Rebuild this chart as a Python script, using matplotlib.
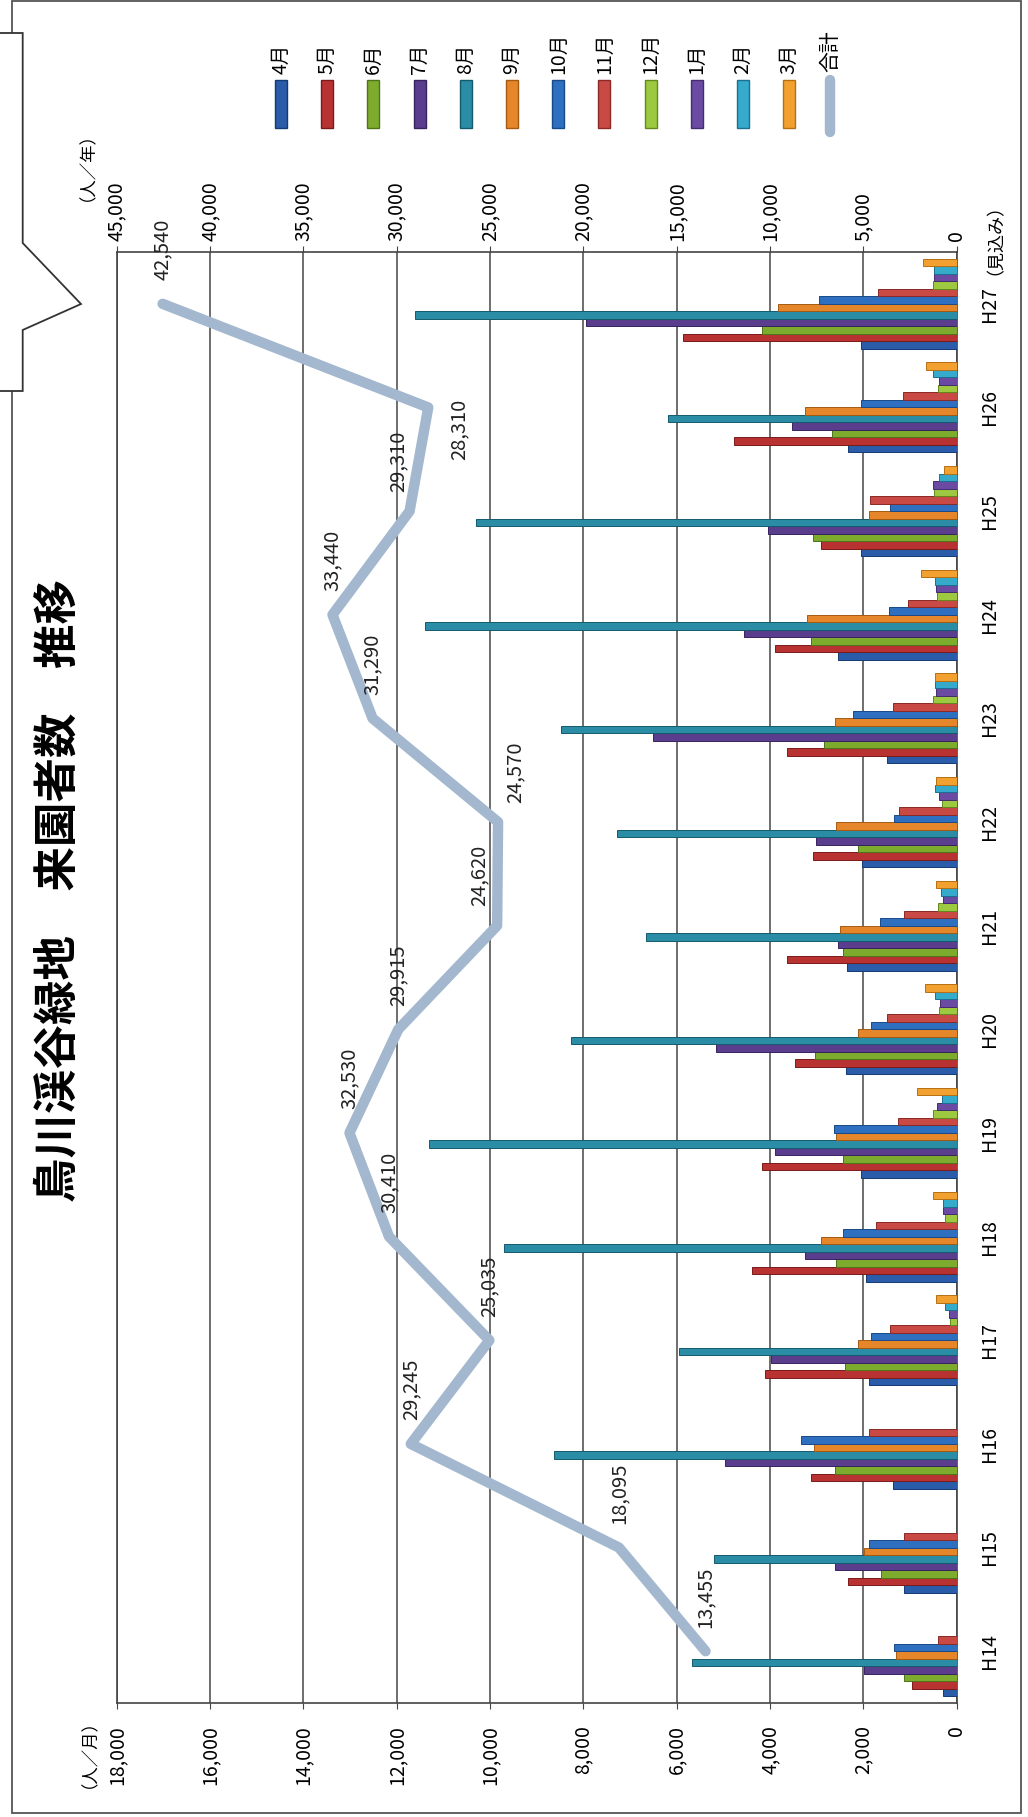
import numpy as np
import matplotlib.pyplot as plt
from matplotlib.patches import Rectangle, Polygon
from matplotlib.lines import Line2D
from matplotlib.ticker import FuncFormatter

plt.rcParams['font.family'] = ['Noto Sans CJK JP', 'DejaVu Sans']

# data (people per month, per year)
years = ['H14', 'H15', 'H16', 'H17', 'H18', 'H19', 'H20',
         'H21', 'H22', 'H23', 'H24', 'H25', 'H26', 'H27']
months = ['4月', '5月', '6月', '7月', '8月', '9月',
          '10月', '11月', '12月', '1月', '2月', '3月']

apr = [290, 1130, 1370, 1870, 1940, 2060, 2370, 2360, 2040, 1500, 2540, 2060, 2320, 2060]
may = [960, 2340, 3130, 4110, 4390, 4180, 3460, 3640, 3090, 3630, 3890, 2910, 4770, 5870]
jun = [1140, 1630, 2610, 2390, 2590, 2430, 3040, 2430, 2110, 2840, 3130, 3070, 2680, 4180]
jul = [1990, 2610, 4960, 3990, 3250, 3890, 5160, 2540, 3010, 6500, 4560, 4040, 3540, 7940]
aug = [5680, 5200, 8630, 5960, 9700, 11300, 8260, 6660, 7270, 8490, 11400, 10300, 6180, 11600]
sep = [1300, 1990, 3060, 2110, 2910, 2590, 2110, 2500, 2590, 2610, 3210, 1890, 3250, 3820]
octo = [1340, 1890, 3340, 1840, 2440, 2630, 1840, 1640, 1340, 2230, 1460, 1440, 2060, 2960]
nov = [410, 1140, 1890, 1440, 1730, 1250, 1490, 1130, 1230, 1370, 1040, 1860, 1160, 1680]
dec = [0, 0, 0, 140, 250, 500, 390, 410, 320, 510, 430, 490, 410, 500]
jan = [0, 0, 0, 160, 290, 430, 360, 290, 370, 440, 440, 500, 390, 490]
feb = [0, 0, 0, 250, 300, 320, 460, 340, 460, 460, 460, 390, 510, 490]
mar = [0, 0, 0, 440, 510, 860, 680, 440, 440, 460, 770, 270, 660, 730]

totals = [13455, 18095, 29245, 25035, 30410, 32530, 29915,
          24620, 24570, 31290, 33440, 29310, 28310, 42540]

series = [apr, may, jun, jul, aug, sep, octo, nov, dec, jan, feb, mar]
colors = ['#2a5caa', '#b83232', '#7cab2e', '#5a3d8c', '#2a8ca5', '#e5862a',
          '#2e6fc0', '#c94a45', '#9cc93f', '#6b4aa3', '#36aacb', '#f2a131']
edges = ['#123a75', '#7a1a1a', '#4d7418', '#37235e', '#155a6c', '#a45a12',
         '#194a88', '#8a2926', '#62881e', '#442c70', '#1b7090', '#b57012']
line_color = '#a3b7cf'

W, H = 1028, 1817
fig = plt.figure(figsize=(W / 100, H / 100), dpi=100)

def fx(px):
    return px / W

def fy(py):
    return 1 - py / H

# the whole chart is turned 90 degrees: value axis runs right-to-left
ax = fig.add_axes([fx(116.7), fy(1703), fx(956.7) - fx(116.7), fy(252) - fy(1703)])
ypos = np.arange(len(years))
h = 0.0724
for i, vals in enumerate(series):
    ax.barh(ypos + (i - 5.5) * h, vals, height=h, color=colors[i],
            edgecolor=edges[i], linewidth=0.7, zorder=3)

ax.set_xlim(18000, 0)
ax.set_ylim(-0.5, len(years) - 0.5)
ax.set_xticks(np.arange(0, 18001, 2000))
ax.xaxis.set_major_formatter(FuncFormatter(lambda v, p: f'{int(v):,}'))
ax.tick_params(axis='x', rotation=90, labelsize=14, length=4, pad=12,
               color='#444444')
ax.grid(axis='x', color='#555555', linewidth=1.2, zorder=0)
ax.set_axisbelow(True)

ax.yaxis.tick_right()
ax.set_yticks(ypos)
ax.set_yticklabels(years, rotation=90, va='center', fontsize=14)
ax.tick_params(axis='y', length=0, pad=16)
for s in ax.spines.values():
    s.set_color('#444444')
    s.set_linewidth(1.2)

ax2 = ax.twiny()
ax2.set_xlim(45000, 0)
ax2.set_xticks(np.arange(0, 45001, 5000))
ax2.xaxis.set_major_formatter(FuncFormatter(lambda v, p: f'{int(v):,}'))
ax2.tick_params(axis='x', rotation=90, labelsize=14, length=4, pad=4,
                color='#444444')
for s in ax2.spines.values():
    s.set_visible(False)
ax2.plot(totals, ypos, color=line_color, linewidth=7.5,
         solid_capstyle='round', solid_joinstyle='round', zorder=5)

# label offsets (points) where the label sits beside the line
label_off = {'H21': (-13, 14), 'H22': (12, 14), 'H25': (-8, 14)}
for i, t in enumerate(totals):
    if years[i] == 'H26':
        off, va = (22, -16), 'center'
    else:
        off, va = label_off.get(years[i], (0, 17)), 'bottom'
    ax2.annotate(f'{t:,}', (t, ypos[i]), xytext=off, textcoords='offset points',
                 rotation=90, ha='center', va=va, fontsize=14.5, color='#222222',
                 zorder=6)

# titles and unit labels
fig.text(fx(58), fy(890), '鳥川渓谷緑地　来園者数　推移', rotation=90,
         ha='center', va='center', fontsize=32, fontweight='bold')
fig.text(fx(78), fy(158), '（人／年）', rotation=90, ha='center', va='center',
         fontsize=12.5)
fig.text(fx(80), fy(1745), '（人／月）', rotation=90, ha='center', va='center',
         fontsize=12.5)
fig.text(fx(986), fy(230), '（見込み）', rotation=90, ha='center', va='center',
         fontsize=13)

# legend drawn by hand in the turned layout
for i, m in enumerate(months):
    x = 281 + 46.2 * i
    fig.add_artist(Rectangle((fx(x - 6), fy(128)), fx(12), fy(80) - fy(128),
                             transform=fig.transFigure, facecolor=colors[i],
                             edgecolor=edges[i], linewidth=1))
    fig.text(fx(x), fy(74), m, rotation=90, ha='center', va='bottom',
             fontsize=14)
fig.add_artist(Line2D([fx(830), fx(830)], [fy(132), fy(80)],
                      transform=fig.transFigure, color=line_color,
                      linewidth=7.5, solid_capstyle='round'))
fig.text(fx(830), fy(72), '合計', rotation=90, ha='center', va='bottom',
         fontsize=15)

# outer frame and callout box
fig.add_artist(Rectangle((fx(12), fy(1813)), fx(1021) - fx(12), fy(1) - fy(1813),
                         transform=fig.transFigure, fill=False,
                         edgecolor='#555555', linewidth=1.3))
fig.add_artist(Polygon([(fx(-5), fy(33)), (fx(22.7), fy(33)), (fx(22.7), fy(243)),
                        (fx(81), fy(304)), (fx(22.7), fy(330)), (fx(22.7), fy(391)),
                        (fx(-5), fy(391))], closed=True,
                       transform=fig.transFigure, facecolor='white',
                       edgecolor='#333333', linewidth=1.3, zorder=10))

fig.savefig('out.png', dpi=100)
